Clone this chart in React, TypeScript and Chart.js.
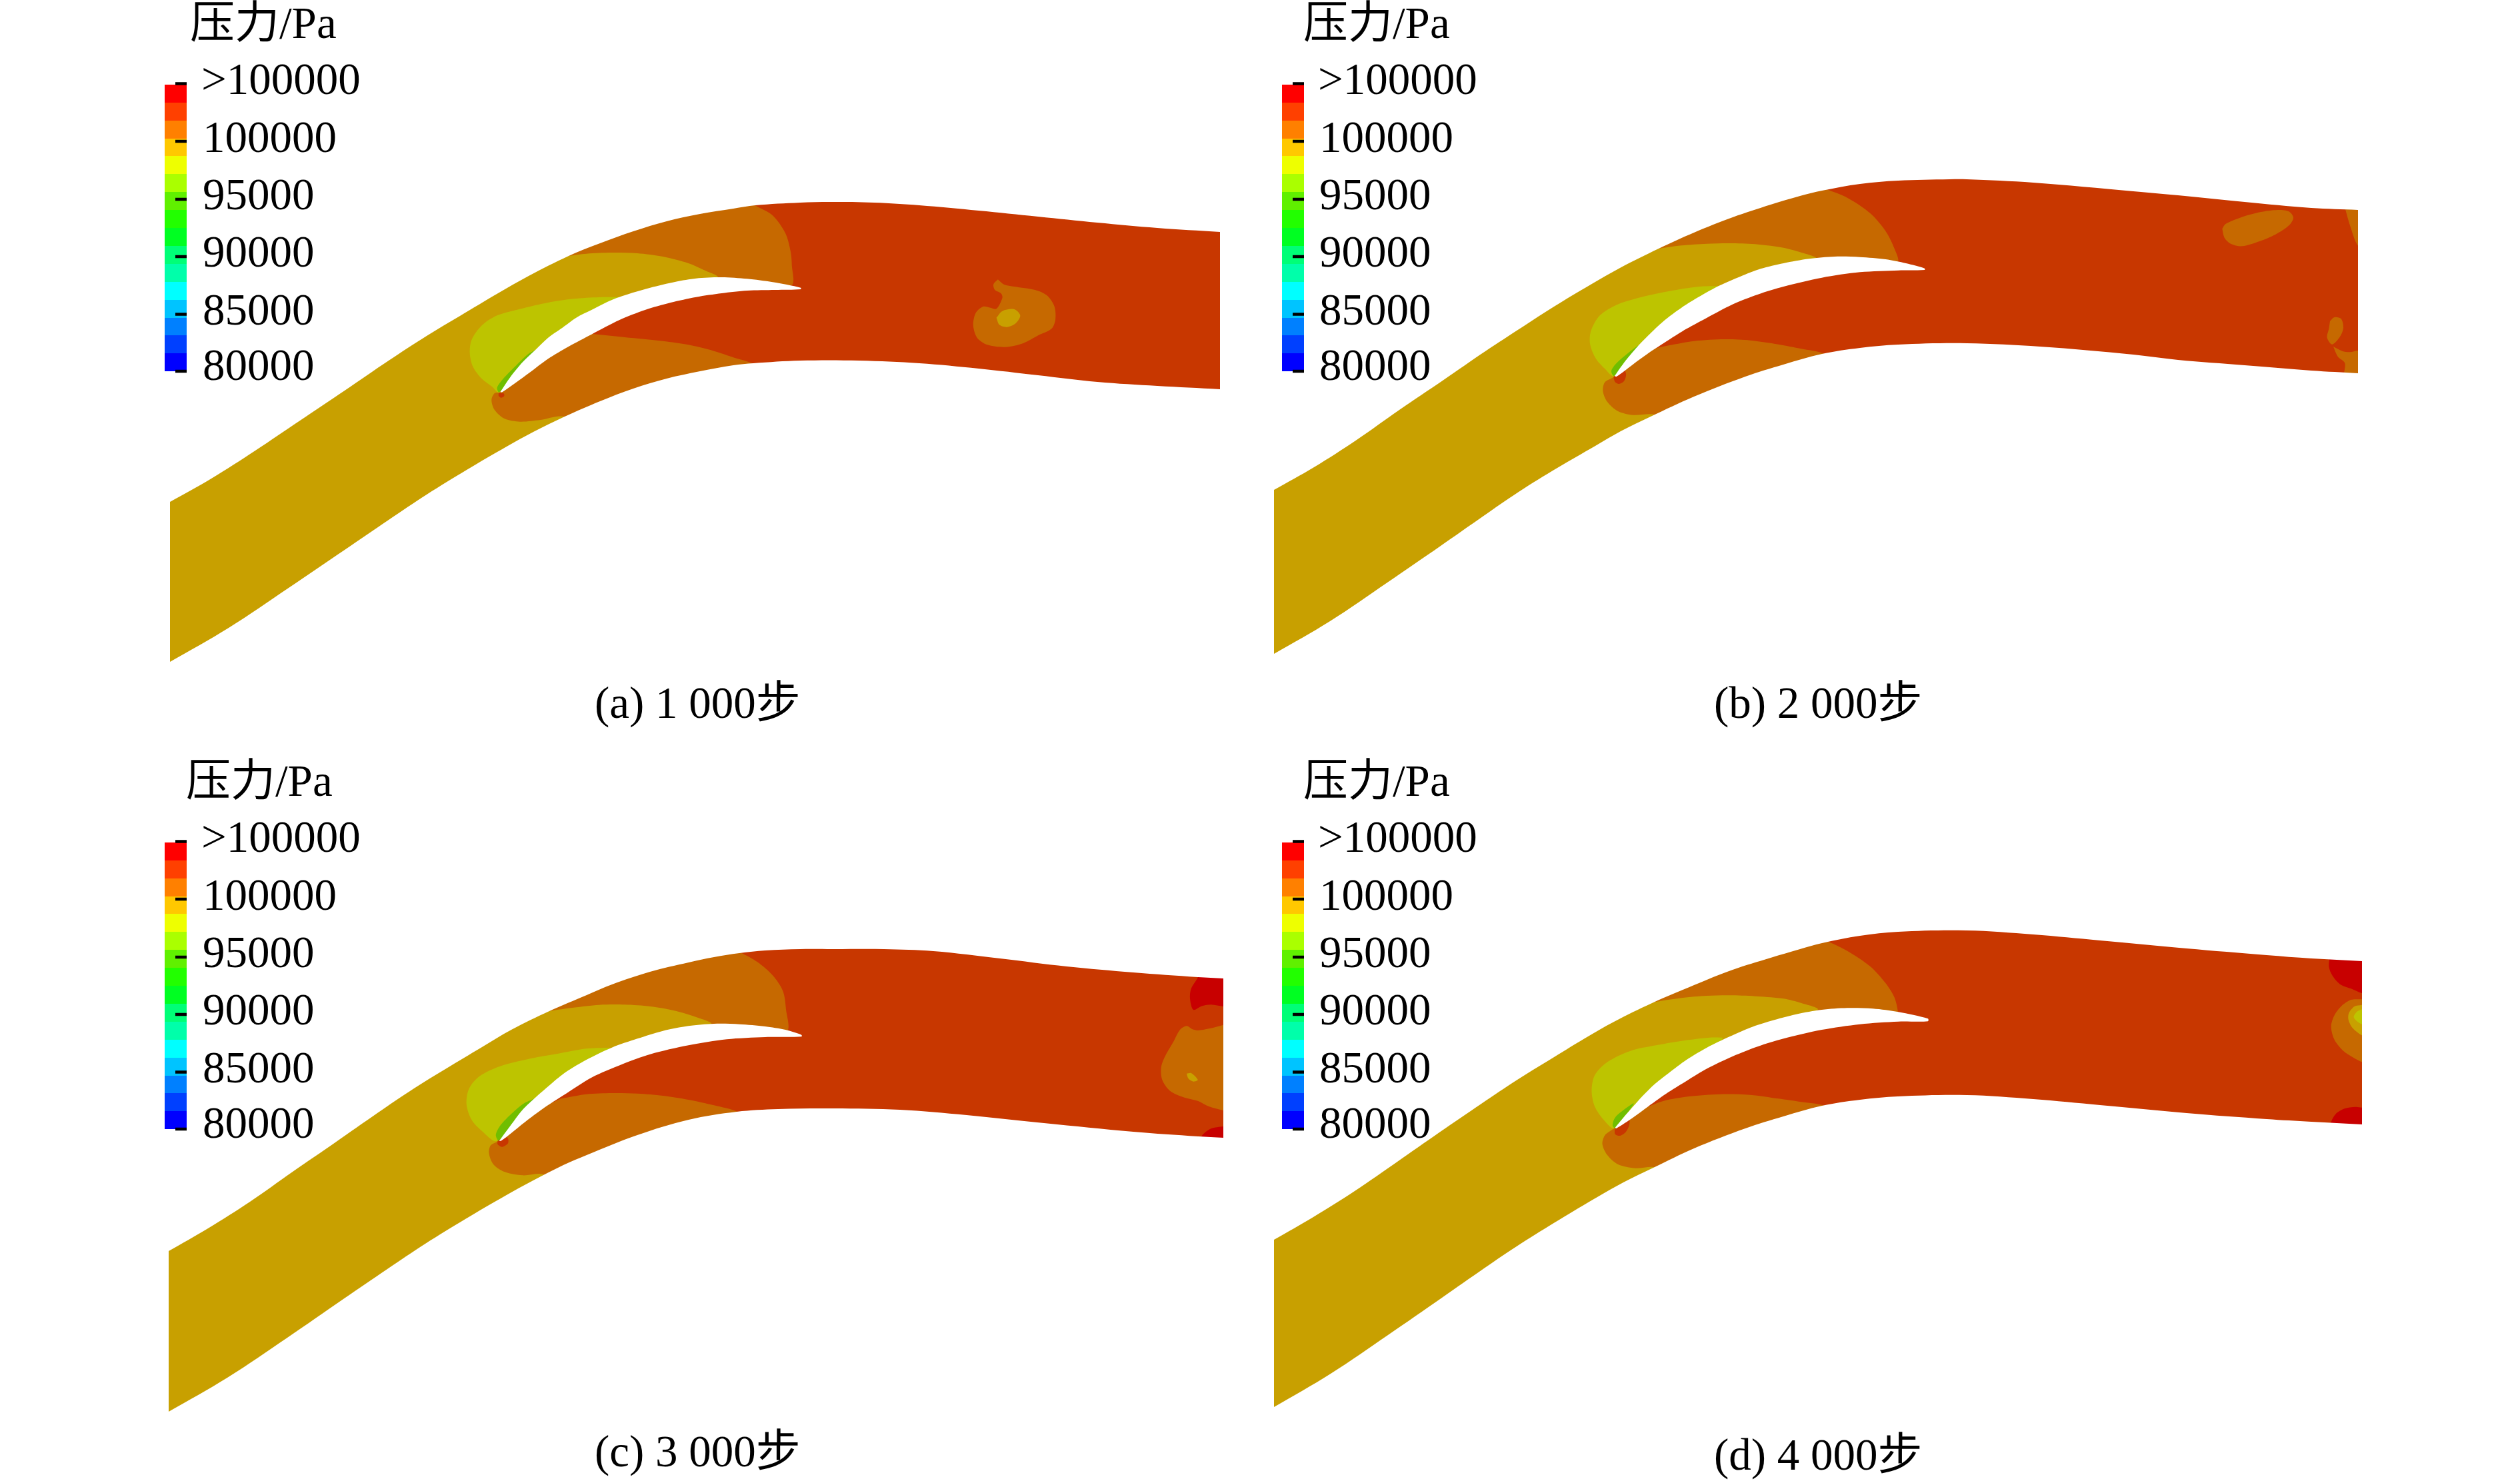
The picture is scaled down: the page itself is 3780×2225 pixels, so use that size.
import React, { useEffect, useRef } from "react";
import { Chart, registerables } from "chart.js";

Chart.register(...registerables);

type P = [number, number];
type Frame = [number, number, number, number];

const W = 3780;
const H = 2225;

const titleText = "压力/Pa";
const legendLabels = [">100000", "100000", "95000", "90000", "85000", "80000"];
const legendLabelBaselines = [141, 228, 314, 400, 487, 570];
const legendTicks = [125.5, 212, 299, 385, 471.5, 557];
const legendEdges = [127, 154, 181, 208, 234, 261, 288, 315, 342, 369, 396, 423, 450, 477, 503, 530, 557];
const legendColors = ["#FF0000", "#FF4000", "#FF8000", "#FFC800", "#EEFF00", "#AAFF00", "#60F000", "#22FF00", "#00FF22", "#00FF77", "#00FFAA", "#00FFFF", "#00C4FF", "#0080FF", "#0040FF", "#0000FF"];
const captions = ["(a) 1 000步", "(b) 2 000步", "(c) 3 000步", "(d) 4 000步"];

const C_OCHRE = "#C8A000";
const C_ORANGE = "#C66900";
const C_RED = "#C83700";
const C_LIME = "#BDC400";
const C_GREEN = "#70BE00";
const C_DARK = "#C80000";

// zoom frames: x origin, y origin, x factor, y factor
const ZA: Frame = [650, 280, 2.613, 3];
const ZAout: Frame = [1200, 280, 2.24, 3];
const ZB: Frame = [2350, 240, 2.613, 3];
const ZBout: Frame = [3200, 260, 3, 3];
const ZC: Frame = [650, 1400, 2.613, 3];
const ZCout: Frame = [1600, 1420, 3, 3];
const ZD: Frame = [2350, 1380, 2.613, 3];
const ZDout: Frame = [3400, 1400, 3, 3];

// ---------- panel (a) ----------
const topA: P[] = [[255, 753], [317, 718], [383, 676], [450, 631], [517, 586], [583, 541], [640, 504], [690, 474], [747, 440], [793, 414], [853, 384], [900, 365], [950, 347], [1000, 332], [1050, 321], [1100, 313], [1133, 308], [1200, 304], [1245, 303], [1312, 304], [1379, 308], [1468, 316], [1557, 325], [1646, 334], [1736, 342], [1830, 348]];
const bottomA: P[] = [[255, 993], [343, 942], [433, 882], [517, 825], [583, 780], [640, 742], [700, 705], [760, 670], [800, 648], [847, 625], [900, 602], [950, 583], [1000, 568], [1050, 557], [1100, 548], [1130, 545], [1200, 541], [1289, 541], [1379, 545], [1468, 553], [1557, 563], [1646, 573], [1736, 579], [1830, 584]];
const bladeA: P[] = [[262, 925], [300, 860], [350, 790], [400, 735], [450, 680], [500, 640], [560, 590], [620, 555], [700, 510], [780, 478], [850, 455], [950, 428], [1030, 413], [1130, 408], [1230, 415], [1330, 430], [1440, 455], [1440, 462], [1340, 465], [1230, 468], [1130, 480], [1030, 497], [930, 522], [830, 555], [730, 600], [620, 665], [530, 720], [450, 775], [380, 835], [320, 885], [270, 925], [262, 925]];
const orangeUpA: P[] = [[1200, 40], [1262, 85], [1330, 130], [1380, 210], [1400, 290], [1405, 350], [1402, 445], [1100, 440], [800, 500], [500, 680], [300, 500], [500, 280], [800, 130], [1200, 40]];
const ochreA: P[] = [[-1100, 1340], [0, 620], [470, 325], [530, 312], [600, 302], [700, 297], [800, 300], [900, 315], [1000, 345], [1060, 375], [1115, 408], [1000, 450], [700, 540], [400, 780], [262, 925], [350, 1000], [600, 1040], [600, 1250], [-1100, 2220]];
const limeA: P[] = [[730, 498], [650, 498], [550, 505], [450, 522], [350, 548], [250, 580], [190, 625], [150, 690], [143, 750], [155, 810], [190, 865], [230, 900], [258, 925], [400, 760], [600, 600], [730, 520], [730, 498]];
const greenA: P[] = [[400, 735], [370, 755], [320, 810], [270, 870], [250, 905], [258, 925], [300, 880], [400, 760], [400, 735]];
const orangeLowA: P[] = [[600, 660], [750, 678], [900, 695], [1000, 712], [1100, 740], [1180, 770], [1255, 797], [1290, 830], [900, 950], [620, 1100], [510, 1035], [420, 1050], [340, 1058], [280, 1045], [240, 1005], [228, 960], [240, 930], [262, 925], [400, 790], [600, 660]];
const spotA: P[] = [[256, 930], [275, 930], [278, 942], [266, 950], [256, 942], [256, 930]];
const blobA1: P[] = [[665, 418], [685, 440], [720, 450], [790, 465], [830, 490], [855, 540], [858, 600], [845, 640], [800, 670], [750, 705], [690, 722], [630, 712], [595, 680], [582, 625], [590, 570], [615, 540], [640, 545], [660, 550], [680, 500], [675, 480], [655, 465], [650, 440], [665, 418]];
const blobA2: P[] = [[660, 590], [680, 560], [720, 552], [740, 580], [725, 615], [695, 632], [670, 622], [660, 590]];

// ---------- panel (b) ----------
const topB: P[] = [[1911, 735], [1971, 701], [2035, 660], [2099, 615], [2164, 571], [2228, 527], [2283, 491], [2331, 460], [2386, 427], [2430, 402], [2488, 373], [2541, 349], [2599, 326], [2656, 307], [2700, 294], [2733, 286], [2790, 276], [2847, 271], [2924, 269], [2950, 269], [3050, 274], [3200, 287], [3267, 293], [3367, 303], [3467, 312], [3537, 315]];
const bottomB: P[] = [[1911, 981], [1995, 932], [2081, 874], [2161, 819], [2224, 775], [2278, 738], [2336, 702], [2393, 669], [2431, 647], [2476, 625], [2541, 595], [2618, 565], [2675, 547], [2733, 531], [2790, 522], [2847, 517], [2950, 515], [3060, 520], [3200, 532], [3267, 540], [3367, 548], [3467, 556], [3537, 560]];
const bladeB: P[] = [[188, 972], [220, 920], [270, 850], [320, 790], [380, 725], [450, 665], [520, 615], [600, 565], [680, 525], [760, 490], [850, 465], [950, 445], [1050, 435], [1150, 437], [1250, 447], [1330, 465], [1403, 488], [1403, 495], [1300, 497], [1150, 505], [1000, 530], [850, 570], [750, 605], [650, 650], [550, 710], [470, 760], [400, 810], [320, 870], [260, 920], [195, 975], [188, 972]];
const orangeUpB: P[] = [[960, 100], [1015, 130], [1100, 170], [1190, 240], [1250, 320], [1285, 400], [1296, 460], [1100, 470], [700, 560], [400, 750], [300, 600], [350, 380], [700, 200], [960, 100]];
const ochreB: P[] = [[-1200, 1430], [0, 590], [300, 420], [350, 402], [450, 385], [550, 377], [650, 375], [750, 380], [850, 395], [930, 420], [980, 442], [950, 460], [700, 530], [400, 770], [190, 965], [250, 1080], [500, 1130], [500, 1300], [-1200, 2300]];
const limeB: P[] = [[600, 568], [520, 570], [430, 585], [320, 610], [200, 650], [130, 700], [95, 770], [92, 830], [115, 895], [150, 940], [186, 972], [350, 790], [520, 640], [600, 580], [600, 568]];
const greenB: P[] = [[280, 835], [240, 870], [195, 915], [175, 950], [186, 972], [220, 925], [280, 840], [280, 835]];
const orangeLowB: P[] = [[320, 855], [400, 835], [500, 815], [620, 807], [720, 812], [830, 830], [920, 850], [1005, 870], [1040, 900], [700, 1020], [420, 1180], [340, 1145], [260, 1148], [200, 1130], [160, 1090], [142, 1040], [150, 1000], [183, 978], [260, 900], [320, 855]];
const spotB: P[] = [[185, 985], [190, 1000], [205, 1008], [225, 995], [233, 965], [225, 945], [200, 965], [185, 975], [185, 985]];
const blobB1: P[] = [[400, 250], [415, 228], [480, 200], [570, 175], [650, 165], [700, 172], [720, 200], [700, 235], [640, 275], [570, 305], [490, 328], [440, 318], [410, 290], [400, 250]];
const blobB2: P[] = [[950, 145], [955, 165], [975, 235], [1010, 325], [1040, 325], [1040, 145], [950, 145]];
const blobB3: P[] = [[885, 665], [905, 648], [935, 655], [945, 695], [930, 735], [895, 770], [872, 740], [880, 700], [885, 665]];
const blobB4: P[] = [[900, 780], [940, 800], [975, 805], [1010, 798], [1040, 798], [1040, 930], [950, 930], [952, 855], [920, 825], [900, 780]];

// ---------- panel (c) ----------
const topC: P[] = [[253, 1877], [312, 1843], [375, 1803], [439, 1758], [503, 1714], [566, 1670], [621, 1633], [668, 1604], [723, 1571], [767, 1545], [824, 1517], [880, 1493], [918, 1477], [975, 1458], [1033, 1444], [1071, 1436], [1109, 1430], [1148, 1426], [1200, 1424], [1250, 1424], [1326, 1424], [1400, 1427], [1500, 1438], [1600, 1450], [1700, 1459], [1797, 1466], [1835, 1468]];
const bottomC: P[] = [[253, 2118], [341, 2067], [431, 2007], [515, 1949], [581, 1904], [638, 1866], [698, 1829], [758, 1794], [798, 1772], [845, 1748], [880, 1733], [956, 1703], [1033, 1680], [1105, 1668], [1167, 1664], [1250, 1663], [1350, 1665], [1450, 1673], [1566, 1685], [1700, 1698], [1797, 1705], [1835, 1707]];
const bladeC: P[] = [[258, 935], [300, 870], [350, 795], [400, 740], [460, 680], [520, 625], [600, 570], [700, 515], [800, 475], [900, 440], [1000, 418], [1100, 408], [1200, 410], [1300, 420], [1380, 435], [1443, 458], [1443, 466], [1300, 468], [1150, 478], [1000, 505], [850, 545], [740, 590], [620, 650], [510, 730], [430, 790], [360, 850], [300, 905], [265, 935], [258, 935]];
const orangeUpC: P[] = [[1150, 60], [1205, 88], [1270, 130], [1330, 190], [1370, 260], [1382, 340], [1383, 445], [1100, 445], [700, 550], [450, 750], [350, 500], [450, 330], [800, 150], [1150, 60]];
const ochreC: P[] = [[-1100, 1340], [0, 620], [400, 360], [455, 350], [550, 335], [650, 323], [750, 322], [850, 330], [950, 350], [1030, 378], [1090, 408], [1000, 440], [700, 540], [430, 770], [258, 935], [350, 1030], [600, 1060], [600, 1260], [-1100, 2220]];
const limeC: P[] = [[690, 515], [600, 520], [500, 540], [380, 565], [260, 600], [180, 645], [140, 700], [130, 770], [150, 840], [190, 890], [250, 935], [400, 770], [560, 620], [690, 530], [690, 515]];
const greenC: P[] = [[395, 745], [350, 770], [300, 820], [260, 870], [245, 910], [258, 935], [300, 880], [395, 750], [395, 745]];
const orangeLowC: P[] = [[500, 745], [600, 725], [700, 720], [800, 722], [900, 732], [1000, 750], [1100, 775], [1195, 805], [1230, 840], [800, 990], [500, 1130], [430, 1085], [350, 1090], [280, 1075], [235, 1040], [218, 990], [225, 955], [255, 935], [400, 800], [500, 745]];
const spotC: P[] = [[252, 935], [290, 920], [293, 945], [270, 962], [252, 950], [252, 935]];
const darkC1: P[] = [[595, 120], [590, 140], [560, 190], [555, 235], [570, 285], [610, 268], [650, 262], [705, 270], [730, 270], [730, 120], [595, 120]];
const orangeC1: P[] = [[705, 353], [640, 370], [590, 378], [565, 372], [540, 358], [510, 375], [480, 430], [440, 500], [425, 545], [430, 600], [465, 650], [530, 680], [590, 695], [640, 720], [705, 738], [730, 740], [730, 350], [705, 353]];
const ochreC1: P[] = [[540, 572], [560, 570], [590, 600], [570, 608], [548, 595], [540, 572]];
const darkC2: P[] = [[600, 880], [610, 850], [650, 820], [705, 810], [730, 810], [730, 880], [600, 880]];

// ---------- panel (d) ----------
const topD: P[] = [[1911, 1860], [1970, 1826], [2032, 1787], [2096, 1743], [2159, 1699], [2222, 1656], [2276, 1620], [2323, 1591], [2377, 1558], [2421, 1533], [2478, 1505], [2541, 1478], [2599, 1455], [2656, 1437], [2700, 1424], [2733, 1415], [2790, 1404], [2847, 1398], [2950, 1396], [3050, 1402], [3150, 1411], [3280, 1423], [3400, 1433], [3467, 1438], [3543, 1442]];
const bottomD: P[] = [[1911, 2111], [1996, 2061], [2082, 2003], [2163, 1947], [2226, 1903], [2281, 1866], [2339, 1830], [2396, 1796], [2435, 1774], [2480, 1752], [2541, 1723], [2618, 1693], [2675, 1675], [2733, 1659], [2790, 1650], [2847, 1645], [2950, 1643], [3050, 1649], [3150, 1658], [3280, 1670], [3400, 1679], [3467, 1683], [3543, 1687]];
const bladeD: P[] = [[190, 935], [230, 880], [280, 815], [340, 745], [400, 690], [470, 630], [550, 575], [640, 525], [720, 485], [800, 455], [900, 425], [1000, 405], [1100, 397], [1200, 400], [1300, 415], [1416, 445], [1416, 457], [1300, 458], [1150, 470], [1000, 495], [850, 535], [750, 570], [650, 615], [550, 670], [470, 725], [400, 775], [320, 840], [260, 890], [195, 938], [190, 935]];
const orangeUpD: P[] = [[950, 70], [1018, 95], [1100, 140], [1190, 210], [1250, 285], [1285, 350], [1298, 410], [1298, 430], [1100, 430], [700, 530], [400, 740], [300, 600], [340, 350], [700, 180], [950, 70]];
const ochreD: P[] = [[-1200, 1400], [0, 560], [280, 385], [335, 372], [450, 352], [550, 342], [650, 340], [750, 345], [850, 355], [920, 375], [985, 403], [900, 440], [600, 560], [350, 760], [190, 935], [250, 1060], [500, 1100], [500, 1300], [-1200, 2300]];
const limeD: P[] = [[610, 530], [560, 530], [450, 545], [350, 565], [250, 590], [160, 640], [110, 700], [98, 770], [110, 840], [145, 900], [188, 938], [350, 750], [500, 620], [610, 540], [610, 530]];
const greenD: P[] = [[262, 825], [230, 850], [190, 890], [180, 925], [190, 938], [225, 890], [262, 830], [262, 825]];
const orangeLowD: P[] = [[310, 845], [380, 815], [480, 795], [600, 785], [720, 788], [830, 805], [920, 820], [1005, 835], [1040, 865], [700, 990], [420, 1140], [340, 1113], [270, 1118], [200, 1100], [160, 1060], [140, 1010], [150, 970], [185, 940], [260, 880], [310, 845]];
const spotD: P[] = [[188, 945], [190, 965], [210, 972], [232, 955], [245, 925], [245, 900], [215, 925], [195, 940], [188, 945]];
const darkD1: P[] = [[285, 100], [280, 150], [295, 190], [330, 230], [380, 250], [428, 270], [460, 270], [460, 100], [285, 100]];
const orangeD1: P[] = [[428, 298], [380, 300], [340, 325], [305, 370], [290, 420], [305, 480], [345, 530], [390, 560], [428, 580], [460, 590], [460, 290], [428, 298]];
const ochreD1: P[] = [[428, 323], [395, 330], [370, 360], [368, 390], [385, 425], [428, 460], [460, 470], [460, 310], [428, 323]];
const limeD1: P[] = [[428, 343], [405, 355], [392, 378], [405, 395], [428, 410], [460, 420], [460, 335], [428, 343]];
const darkD2: P[] = [[288, 880], [288, 855], [310, 815], [350, 790], [400, 782], [428, 785], [460, 785], [460, 880], [288, 880]];

type Region = { pts: P[]; frame: Frame; color: string };
type Panel = { top: P[]; bottom: P[]; regions: Region[]; blade: P[]; frame: Frame };

const panels: Panel[] = [
  {
    top: topA, bottom: bottomA, blade: bladeA, frame: ZA,
    regions: [
      { pts: orangeUpA, frame: ZA, color: C_ORANGE },
      { pts: ochreA, frame: ZA, color: C_OCHRE },
      { pts: limeA, frame: ZA, color: C_LIME },
      { pts: greenA, frame: ZA, color: C_GREEN },
      { pts: orangeLowA, frame: ZA, color: C_ORANGE },
      { pts: spotA, frame: ZA, color: C_RED },
      { pts: blobA1, frame: ZAout, color: C_ORANGE },
      { pts: blobA2, frame: ZAout, color: C_OCHRE },
    ],
  },
  {
    top: topB, bottom: bottomB, blade: bladeB, frame: ZB,
    regions: [
      { pts: orangeUpB, frame: ZB, color: C_ORANGE },
      { pts: ochreB, frame: ZB, color: C_OCHRE },
      { pts: limeB, frame: ZB, color: C_LIME },
      { pts: greenB, frame: ZB, color: C_GREEN },
      { pts: orangeLowB, frame: ZB, color: C_ORANGE },
      { pts: spotB, frame: ZB, color: C_RED },
      { pts: blobB1, frame: ZBout, color: C_ORANGE },
      { pts: blobB2, frame: ZBout, color: C_ORANGE },
      { pts: blobB3, frame: ZBout, color: C_ORANGE },
      { pts: blobB4, frame: ZBout, color: C_ORANGE },
    ],
  },
  {
    top: topC, bottom: bottomC, blade: bladeC, frame: ZC,
    regions: [
      { pts: orangeUpC, frame: ZC, color: C_ORANGE },
      { pts: ochreC, frame: ZC, color: C_OCHRE },
      { pts: limeC, frame: ZC, color: C_LIME },
      { pts: greenC, frame: ZC, color: C_GREEN },
      { pts: orangeLowC, frame: ZC, color: C_ORANGE },
      { pts: spotC, frame: ZC, color: C_RED },
      { pts: darkC1, frame: ZCout, color: C_DARK },
      { pts: orangeC1, frame: ZCout, color: C_ORANGE },
      { pts: ochreC1, frame: ZCout, color: C_OCHRE },
      { pts: darkC2, frame: ZCout, color: C_DARK },
    ],
  },
  {
    top: topD, bottom: bottomD, blade: bladeD, frame: ZD,
    regions: [
      { pts: orangeUpD, frame: ZD, color: C_ORANGE },
      { pts: ochreD, frame: ZD, color: C_OCHRE },
      { pts: limeD, frame: ZD, color: C_LIME },
      { pts: greenD, frame: ZD, color: C_GREEN },
      { pts: orangeLowD, frame: ZD, color: C_ORANGE },
      { pts: spotD, frame: ZD, color: C_RED },
      { pts: darkD1, frame: ZDout, color: C_DARK },
      { pts: orangeD1, frame: ZDout, color: C_ORANGE },
      { pts: ochreD1, frame: ZDout, color: C_OCHRE },
      { pts: limeD1, frame: ZDout, color: C_LIME },
      { pts: darkD2, frame: ZDout, color: C_DARK },
    ],
  },
];

// legend placement per panel: bar x, label x, title x, vertical shift
const legendPlaces = [
  { bar: 247, label: 302, title: 285, dy: 0 },
  { bar: 1923, label: 1977, title: 1955, dy: 0 },
  { bar: 247, label: 302, title: 279, dy: 1137 },
  { bar: 1923, label: 1977, title: 1955, dy: 1137 },
];
const captionPlaces: P[] = [[892, 1077], [2571, 1077], [892, 2200], [2571, 2205]];

const xy = (pts: P[], f?: Frame) =>
  pts.map(([x, y]) => (f ? { x: f[0] + x / f[2], y: f[1] + y / f[3] } : { x, y }));

function buildDatasets() {
  const layers: any[] = [];
  const add = (data: any[], color: string, tension = 0) =>
    layers.push({ data, backgroundColor: color, borderWidth: 0, fill: "shape", pointRadius: 0, tension });

  panels.forEach((p) => {
    const L = p.top[0][0];
    const R = p.top[p.top.length - 1][0];
    const minY = p.top.reduce((m, q) => Math.min(m, q[1]), 1e9) - 50;
    const maxY = p.bottom[0][1] + 60;
    add(xy([[L - 5, minY], [R + 5, minY], [R + 5, maxY], [L - 5, maxY], [L - 5, minY]]), C_RED);
    p.regions.forEach((r) => add(xy(r.pts, r.frame), r.color, 0.3));
    const tLast = p.top[p.top.length - 1];
    const bLast = p.bottom[p.bottom.length - 1];
    add(xy([[L - 60, p.top[0][1] + 34], ...p.top, [R + 60, tLast[1] + 4], [R + 60, minY - 10], [L - 60, minY - 10]]), "#FFFFFF", 0.35);
    add(xy([[L - 60, p.bottom[0][1] + 34], ...p.bottom, [R + 60, bLast[1] + 4], [R + 60, maxY + 40], [L - 60, maxY + 40]]), "#FFFFFF", 0.35);
    add(xy([[L - 70, minY - 10], [L, minY - 10], [L, maxY + 40], [L - 70, maxY + 40], [L - 70, minY - 10]]), "#FFFFFF");
    add(xy([[R, minY - 10], [R + 70, minY - 10], [R + 70, maxY + 40], [R, maxY + 40], [R, minY - 10]]), "#FFFFFF");
    add(xy(p.blade, p.frame), "#FFFFFF", 0.3);
  });

  legendPlaces.forEach((l) => {
    legendColors.forEach((c, i) => {
      const y0 = legendEdges[i] + l.dy;
      const y1 = legendEdges[i + 1] + l.dy;
      add(xy([[l.bar, y0], [l.bar + 33, y0], [l.bar + 33, y1], [l.bar, y1], [l.bar, y0]]), c);
    });
    legendTicks.forEach((t) => {
      layers.push({
        data: xy([[l.bar + 16, t + l.dy], [l.bar + 33, t + l.dy]]),
        borderColor: "#000000",
        borderWidth: 4.5,
        fill: false,
        pointRadius: 0,
        tension: 0,
      });
    });
  });

  const n = layers.length;
  layers.forEach((d, i) => (d.order = n - i));
  return layers;
}

const SERIF = '"Liberation Serif", "Noto Sans CJK SC", serif';

const textPlugin = {
  id: "panelText",
  afterDraw(chart: any) {
    const ctx = chart.ctx;
    ctx.save();
    ctx.fillStyle = "#000000";
    ctx.textBaseline = "alphabetic";
    ctx.textAlign = "left";
    ctx.font = `67px ${SERIF}`;
    legendPlaces.forEach((l) => {
      ctx.fillText(titleText, l.title, 57 + l.dy);
      legendLabels.forEach((t, i) => {
        ctx.fillText(t, l.label + (i === 0 ? 0 : 2), legendLabelBaselines[i] + l.dy);
      });
    });
    captions.forEach((c, i) => ctx.fillText(c, captionPlaces[i][0], captionPlaces[i][1]));
    ctx.restore();
  },
};

export default function App() {
  const ref = useRef<HTMLCanvasElement | null>(null);
  useEffect(() => {
    document.body.style.margin = "0";
    document.body.style.background = "#FFFFFF";
    const chart = new Chart(ref.current as HTMLCanvasElement, {
      type: "line",
      data: { datasets: buildDatasets() },
      options: {
        animation: false,
        responsive: false,
        devicePixelRatio: 1,
        layout: { padding: 0 },
        events: [],
        plugins: { legend: { display: false }, tooltip: { enabled: false }, title: { display: false } },
        scales: {
          x: { type: "linear", min: 0, max: W, display: false },
          y: { type: "linear", min: 0, max: H, reverse: true, display: false },
        },
      },
      plugins: [textPlugin],
    } as any);
    return () => chart.destroy();
  }, []);
  return <canvas ref={ref} width={W} height={H} style={{ display: "block", width: W, height: H }} />;
}
